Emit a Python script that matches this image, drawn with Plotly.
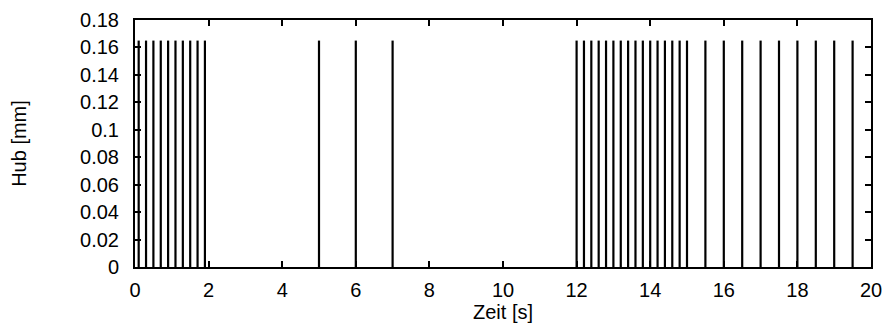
import plotly.graph_objects as go

# Impulse times [s] and stroke height [mm]
pulse_times = [0.1, 0.3, 0.5, 0.7, 0.9, 1.1, 1.3, 1.5, 1.7, 1.9,
               5.0, 6.0, 7.0,
               12.0, 12.2, 12.4, 12.6, 12.8, 13.0, 13.2, 13.4, 13.6, 13.8,
               14.0, 14.2, 14.4, 14.6, 14.8, 15.0,
               15.5, 16.0, 16.5, 17.0, 17.5, 18.0, 18.5, 19.0, 19.5]
pulse_heights = [0.165] * len(pulse_times)

x_tick_vals = [0, 2, 4, 6, 8, 10, 12, 14, 16, 18, 20]
x_tick_text = ["0", "2", "4", "6", "8", "10", "12", "14", "16", "18", "20"]
y_tick_vals = [0, 0.02, 0.04, 0.06, 0.08, 0.1, 0.12, 0.14, 0.16, 0.18]
y_tick_text = ["0", "0.02", "0.04", "0.06", "0.08", "0.1", "0.12", "0.14", "0.16", "0.18"]

xs, ys = [], []
for t, h in zip(pulse_times, pulse_heights):
    xs += [t, t, None]
    ys += [0, h, None]

FONT = "Liberation Sans, Arial, sans-serif"
FS = 20

fig = go.Figure(go.Scatter(x=xs, y=ys, mode="lines",
                           line=dict(color="black", width=2.2),
                           hoverinfo="skip", showlegend=False))

axis_common = dict(showline=True, linecolor="black", linewidth=2, mirror="ticks",
                   ticks="inside", ticklen=6, tickwidth=1.5, tickcolor="black",
                   showgrid=False, zeroline=False,
                   tickfont=dict(family=FONT, size=FS, color="black"))

fig.update_xaxes(range=[0, 20], tickvals=x_tick_vals, ticktext=x_tick_text,
                 title=dict(text="Zeit [s]", font=dict(family=FONT, size=FS, color="black"),
                            standoff=0),
                 ticklabelstandoff=4, **axis_common)
fig.update_yaxes(range=[0, 0.18], tickvals=y_tick_vals, ticktext=y_tick_text,
                 title=dict(text="Hub [mm]", font=dict(family=FONT, size=FS, color="black"),
                            standoff=48),
                 ticklabelstandoff=10, **axis_common)

fig.update_layout(width=883, height=327,
                  margin=dict(l=135, r=12, t=20, b=60, autoexpand=False),
                  paper_bgcolor="white", plot_bgcolor="white",
                  font=dict(family=FONT, color="black"))

# remove the default 8px page margin so the figure fills the window exactly
fig.write_html("out.html", config={"displayModeBar": False},
               post_script="document.body.style.margin='0';document.body.style.overflow='hidden';")
